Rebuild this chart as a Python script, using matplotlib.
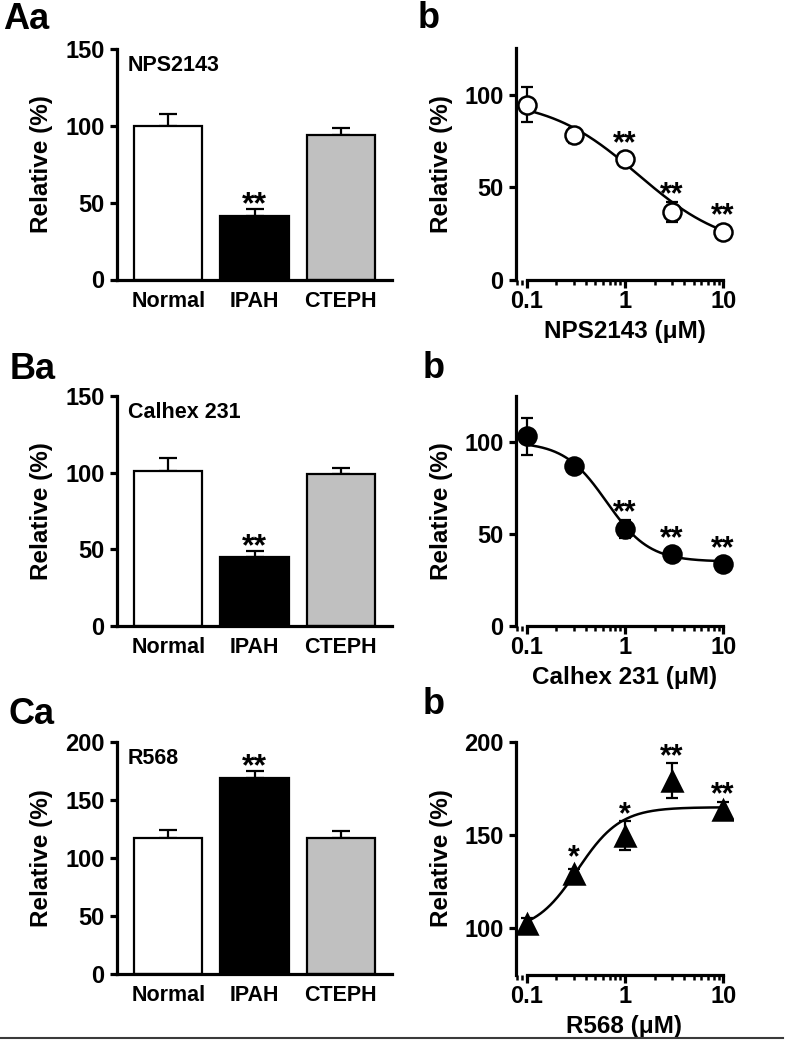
import numpy as np
import matplotlib
matplotlib.use('Agg')
import matplotlib.pyplot as plt
from matplotlib.lines import Line2D
from matplotlib.ticker import LogLocator, FixedLocator, NullFormatter

plt.rcParams['font.family'] = ['Liberation Sans', 'DejaVu Sans']
plt.rcParams['font.weight'] = 'bold'
plt.rcParams['axes.labelweight'] = 'bold'

# bar panels (Aa, Ba, Ca)
groups = ['Normal', 'IPAH', 'CTEPH']
bar_colors = ['white', 'black', '#c0c0c0']

nps_bar = [100, 41.4, 94.2]
nps_bar_sem = [7.8, 4.8, 4.6]
calhex_bar = [101.3, 44.8, 99.1]
calhex_bar_sem = [8.1, 4.3, 4.2]
r568_bar = [117, 168.7, 117]
r568_bar_sem = [7.0, 6.3, 6.0]
bar_stars = ['', '**', '']

# dose-response panels (Ab, Bb, Cb)
dose = [0.1, 0.3, 1, 3, 10]
nps_resp = [94.6, 78, 65.2, 36.9, 26.1]
nps_resp_sem = [9.3, 4.2, 2.5, 5.4, 2.0]
calhex_resp = [103, 86.7, 52.8, 39, 33.7]
calhex_resp_sem = [10, 3, 5, 3, 2]
r568_resp = [102.5, 129, 149.7, 179.3, 163.3]
r568_resp_sem = [3, 3, 7.7, 9.6, 4.7]
nps_stars = ['', '', '**', '**', '**']
calhex_stars = ['', '', '**', '**', '**']
r568_stars = ['', '*', '*', '**', '**']

# sigmoid fits: value at low dose, value at high dose, EC50, hill
nps_fit = (98, 16, 1.35, 0.95)
calhex_fit = (100, 35, 0.65, 2.0)
r568_fit = (98, 165, 0.33, 2.0)

W, H, DPI = 787, 1045, 100
fig = plt.figure(figsize=(W / DPI, H / DPI), dpi=DPI)

LW = 2.3
TICK_FS = 17
LAB_FS = 17.5


def rect(x0, x1, ytop, ybot):
    return [x0 / W, 1 - ybot / H, (x1 - x0) / W, (ybot - ytop) / H]


def put_stars(ax, x, m, s, lab, r_pt, gap=0, fs=23):
    if not lab:
        return
    y0 = ax.transData.transform((x, m))[1]
    y1 = ax.transData.transform((x, m + s))[1]
    off = max((y1 - y0) * 72 / DPI, r_pt) + gap
    ax.annotate(lab, xy=(x, m), xytext=(0, off), textcoords='offset points',
                ha='center', va='baseline', fontsize=fs, fontweight='bold')


def bar_panel(r, vals, sems, ymax, step, drug):
    ax = fig.add_axes(r)
    xs = np.arange(len(groups))
    ax.bar(xs, vals, width=0.79, color=bar_colors, edgecolor='black', linewidth=1.6, zorder=2)
    ax.errorbar(xs, vals, yerr=[np.zeros(len(sems)), sems], fmt='none', ecolor='black',
                elinewidth=1.6, capsize=6.5, capthick=1.6, zorder=1)
    ax.set_xlim(-0.595, 2.594)
    ax.set_ylim(0, ymax)
    ax.set_yticks(np.arange(0, ymax + 1, step))
    ax.set_xticks(xs)
    ax.set_xticklabels(groups, fontsize=15.5)
    for sp in ['top', 'right']:
        ax.spines[sp].set_visible(False)
    for sp in ['left', 'bottom']:
        ax.spines[sp].set_linewidth(LW)
    ax.tick_params(axis='x', length=0, pad=8)
    ax.tick_params(axis='y', length=5, width=LW, pad=4, labelsize=TICK_FS)
    ax.text(0.04, 0.975, drug, transform=ax.transAxes, fontsize=15.5, ha='left', va='top')
    for i in range(len(groups)):
        put_stars(ax, xs[i], vals[i], sems[i], bar_stars[i], 0, gap=-3)
    return ax


def dose_panel(r, vals, sems, fit, ylim, yticks, marker, mfc, xlabel, stars):
    ax = fig.add_axes(r)
    ax.set_xscale('log')
    ax.set_xlim(10 ** -1.109, 10 ** 1.1)
    ax.set_ylim(*ylim)
    lo, hi, ec50, hill = fit
    xx = np.logspace(-1, 1, 300)
    ax.plot(xx, lo + (hi - lo) / (1 + (ec50 / xx) ** hill), color='black', lw=1.8, zorder=2)
    ax.errorbar(dose, vals, yerr=sems, fmt='none', ecolor='black', elinewidth=1.6,
                capsize=4, capthick=1.6, zorder=1)
    ms = 14 if marker == '^' else 13
    ax.plot(dose, vals, linestyle='none', marker=marker, ms=ms, mfc=mfc, mec='black',
            mew=1.8, zorder=3)
    ax.spines['bottom'].set_bounds(0.1, 10)
    for sp in ['top', 'right']:
        ax.spines[sp].set_visible(False)
    for sp in ['left', 'bottom']:
        ax.spines[sp].set_linewidth(LW)
    ax.set_yticks(yticks)
    ax.xaxis.set_major_locator(FixedLocator([0.1, 1, 10]))
    ax.set_xticklabels(['0.1', '1', '10'])
    ax.xaxis.set_minor_locator(LogLocator(base=10, subs=np.arange(2, 10)))
    ax.xaxis.set_minor_formatter(NullFormatter())
    ax.tick_params(axis='x', which='major', length=6, width=LW, pad=1, labelsize=TICK_FS)
    ax.tick_params(axis='x', which='minor', length=3.5, width=1.8)
    ax.tick_params(axis='y', length=5, width=LW, pad=4, labelsize=TICK_FS)
    ax.set_xlabel(xlabel, fontsize=LAB_FS, labelpad=5)
    r_pt = ms / 2
    for i in range(len(dose)):
        put_stars(ax, dose[i], vals[i], sems[i], stars[i], r_pt, gap=-1.5, fs=22)
    return ax


axes_bar = [
    bar_panel(rect(117, 392, 49.5, 279.5), nps_bar, nps_bar_sem, 150, 50, 'NPS2143'),
    bar_panel(rect(117, 392, 396, 626), calhex_bar, calhex_bar_sem, 150, 50, 'Calhex 231'),
    bar_panel(rect(117, 392, 742, 974), r568_bar, r568_bar_sem, 200, 50, 'R568'),
]
axes_dose = [
    dose_panel(rect(516, 733, 48.3, 280), nps_resp, nps_resp_sem, nps_fit, (0, 125),
               [0, 50, 100], 'o', 'white', 'NPS2143 (\u03bcM)', nps_stars),
    dose_panel(rect(516, 733, 396, 626), calhex_resp, calhex_resp_sem, calhex_fit, (0, 125),
               [0, 50, 100], 'o', 'black', 'Calhex 231 (\u03bcM)', calhex_stars),
    dose_panel(rect(516, 733, 742, 975), r568_resp, r568_resp_sem, r568_fit, (75, 200),
               [100, 150, 200], '^', 'black', 'R568 (\u03bcM)', r568_stars),
]

for ax in axes_bar:
    ax.set_ylabel('Relative (%)', fontsize=LAB_FS)
    ax.yaxis.set_label_coords(-0.233, 0.5)
for ax in axes_dose:
    ax.set_ylabel('Relative (%)', fontsize=LAB_FS)
    ax.yaxis.set_label_coords(-0.29, 0.5)

# panel letters
for lab, x, y in [('Aa', 3, 29), ('b', 418, 28), ('Ba', 10, 379), ('b', 423, 378),
                  ('Ca', 8, 724), ('b', 423, 714)]:
    fig.text(x / W, 1 - y / H, lab, fontsize=26, fontweight='bold', ha='left', va='baseline')

fig.add_artist(Line2D([0, 783 / W], [1 - 1038 / H, 1 - 1038 / H], color='#3a3a3a', lw=1.5))

fig.savefig('out.png', dpi=DPI)
